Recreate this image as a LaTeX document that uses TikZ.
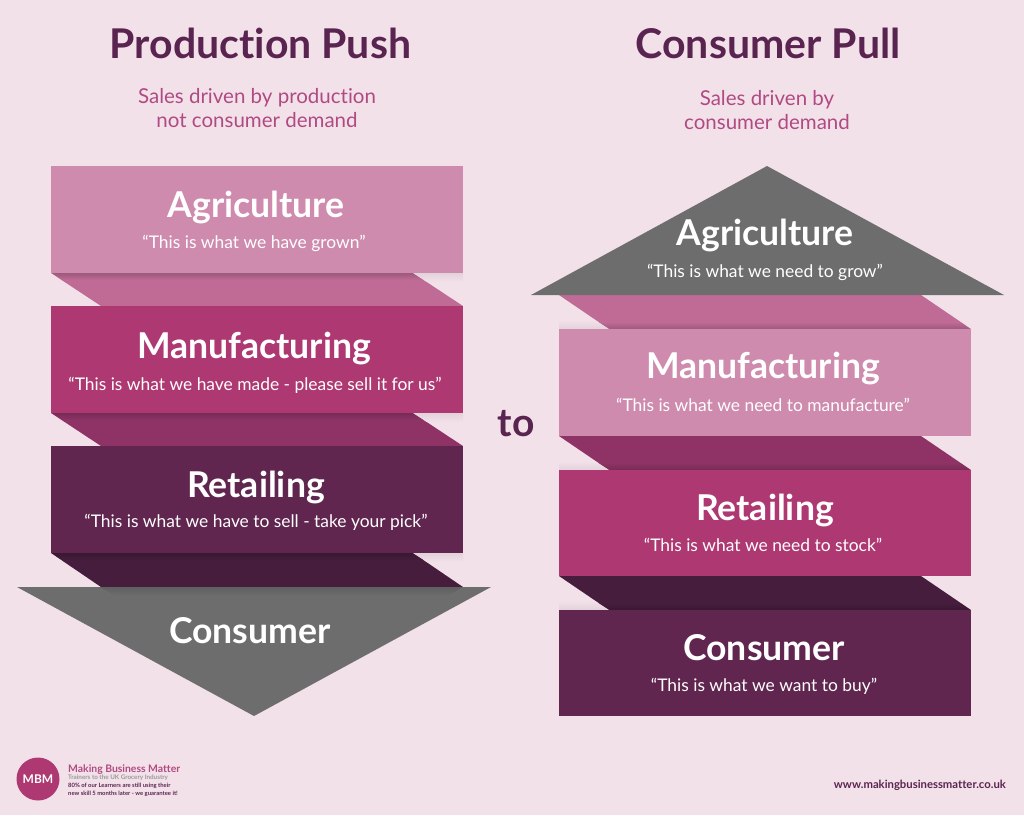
\documentclass[tikz,border=0pt]{standalone}
\usepackage{fontspec}
\setmainfont{Lato}[Ligatures=NoCommon]
\newfontfamily\lightfont{Lato Light}[Ligatures=NoCommon]
\definecolor{bg}{HTML}{F3E1EA}
\definecolor{bgs}{HTML}{E2D2DA}
\definecolor{plum}{HTML}{5A2450}
\definecolor{rose}{HTML}{AE3972}
\definecolor{pale}{HTML}{CE8BAE}
\definecolor{dark}{HTML}{60264F}
\definecolor{grey}{HTML}{6D6D6D}
\definecolor{bandA}{HTML}{C06A96}
\definecolor{bandAs}{HTML}{9C5A7C}
\definecolor{bandB}{HTML}{8F3366}
\definecolor{bandBs}{HTML}{762C55}
\definecolor{bandC}{HTML}{461D3C}
\definecolor{bandCs}{HTML}{3A1832}
\definecolor{subt}{HTML}{B04A82}
\tikzset{
  x=1pt,y=-1pt,
  title/.style={text=plum,font=\fontsize{41}{46}\selectfont\bfseries,inner sep=0pt,anchor=center},
  subtitle/.style={text=subt,font=\fontsize{20.5}{24}\selectfont,align=center,inner sep=0pt,anchor=center},
  head/.style={text=white,font=\fontsize{35.6}{40}\selectfont\bfseries,inner sep=0pt,anchor=center},
  quote/.style={text=white,font=\fontsize{17.4}{21}\selectfont,inner sep=0pt,anchor=center},
  block/.style={inner sep=0pt,minimum width=412pt,minimum height=107pt,anchor=north west},
}
% band with the soft shadow along its top edge (left column)
\newcommand{\bandtop}[6]{%
  \fill[#5] (#1,#2) -- (#3-50,#2) -- (#3,#4) -- (#1+50,#4) -- cycle;
  \shade[top color=#6,bottom color=#5] (#1+1,#2) -- (#3-50,#2) -- (#3-39,#2+7) -- (#1+12,#2+7) -- cycle;
  \shade[top color=bgs,bottom color=bg] (#3-50,#2) -- (#3,#2) -- (#3,#2+9) -- (#3-36,#2+9) -- cycle;
}
% band with the soft shadow along its bottom edge (right column)
\newcommand{\bandbot}[6]{%
  \fill[#5] (#1,#2) -- (#3-50,#2) -- (#3,#4) -- (#1+50,#4) -- cycle;
  \shade[top color=#5,bottom color=#6] (#1+39,#4-7) -- (#3-11,#4-7) -- (#3-1,#4) -- (#1+50,#4) -- cycle;
  \shade[top color=bg,bottom color=bgs] (#1,#4-9) -- (#1+36,#4-9) -- (#1+50,#4) -- (#1,#4) -- cycle;
}
\begin{document}
\begin{tikzpicture}
\useasboundingbox (0,0) rectangle (1024,815);
\fill[bg] (0,0) rectangle (1024,815);
% left column
\node[title] (t1) at (260.5,43) {Production Push};
\node[subtitle] (s1) at (257,108.5) {Sales driven by production\\not consumer demand};
\bandtop{51}{273}{463}{306}{bandA}{bandAs}
\bandtop{51}{413}{463}{446}{bandB}{bandBs}
\bandtop{51}{553}{463}{587}{bandC}{bandCs}
\node[block,fill=pale] (l1) at (51,166) {};
\node[block,fill=rose] (l2) at (51,306) {};
\node[block,fill=dark] (l3) at (51,446) {};
\fill[grey] (17,587) -- (491,587) -- (254,716) -- cycle;
\shade[top color=grey!88!black,bottom color=grey] (100,587) -- (463,587) -- (447,596) -- (116,596) -- cycle;
\node[head] (l1h) at (256,207) {Agriculture};
\node[quote] (l1q) at (254,243) {“This is what we have grown”};
\node[head] (l2h) at (254,349) {Manufacturing};
\node[quote] (l2q) at (255,385) {“This is what we have made - please sell it for us”};
\node[head] (l3h) at (256,487) {Retailing};
\node[quote] (l3q) at (256,522) {“This is what we have to sell - take your pick”};
\node[head] (l4h) at (250,631) {Consumer};
% to
\node[text=plum,font=\fontsize{39}{44}\selectfont\bfseries,inner sep=0pt] (to) at (516,424) {to};
% right column
\node[title] (t2) at (768,43) {Consumer Pull};
\node[subtitle] (s2) at (767,110.5) {Sales driven by\\consumer demand};
\bandbot{559}{295}{971}{329}{bandA}{bandAs}
\bandbot{559}{436}{971}{470}{bandB}{bandBs}
\bandbot{559}{576}{971}{610}{bandC}{bandCs}
\fill[grey] (531,295) -- (1004,295) -- (767,166) -- cycle;
\node[block,fill=pale] (r2) at (559,329) {};
\node[block,fill=rose,minimum height=106pt] (r3) at (559,470) {};
\node[block,fill=dark,minimum height=106pt] (r4) at (559,610) {};
\node[head] (r1h) at (765,235) {Agriculture};
\node[quote] (r1q) at (765,272) {“This is what we need to grow”};
\node[head] (r2h) at (763,369) {Manufacturing};
\node[quote] (r2q) at (763,405) {“This is what we need to manufacture”};
\node[head] (r3h) at (765,510) {Retailing};
\node[quote] (r3q) at (763,545) {“This is what we need to stock”};
\node[head] (r4h) at (764,648) {Consumer};
\node[quote] (r4q) at (764,686) {“This is what we want to buy”};
% footer
\node[circle,fill=rose,minimum size=43pt,inner sep=0pt,text=white,font=\fontsize{12}{14}\selectfont\bfseries] (logo) at (38,779) {MBM};
\node[anchor=west,inner sep=0pt,text=subt,font=\fontsize{10.4}{12}\selectfont\bfseries] (f1) at (68,770) {Making Business Matter};
\node[anchor=west,inner sep=0pt,text=grey!70,font=\fontsize{6.3}{8}\selectfont\bfseries] (f2) at (68,778) {Trainers to the UK Grocery Industry};
\node[anchor=west,inner sep=0pt,text=plum,font=\fontsize{5.9}{7.6}\selectfont\bfseries,align=left] (f3) at (68,790) {80\% of our Learners are still using their\\new skill 5 months later - we guarantee it!};
\node[anchor=east,inner sep=0pt,text=plum,font=\fontsize{11.3}{13}\selectfont\bfseries] (url) at (1006,785) {www.makingbusinessmatter.co.uk};
\end{tikzpicture}
\end{document}
